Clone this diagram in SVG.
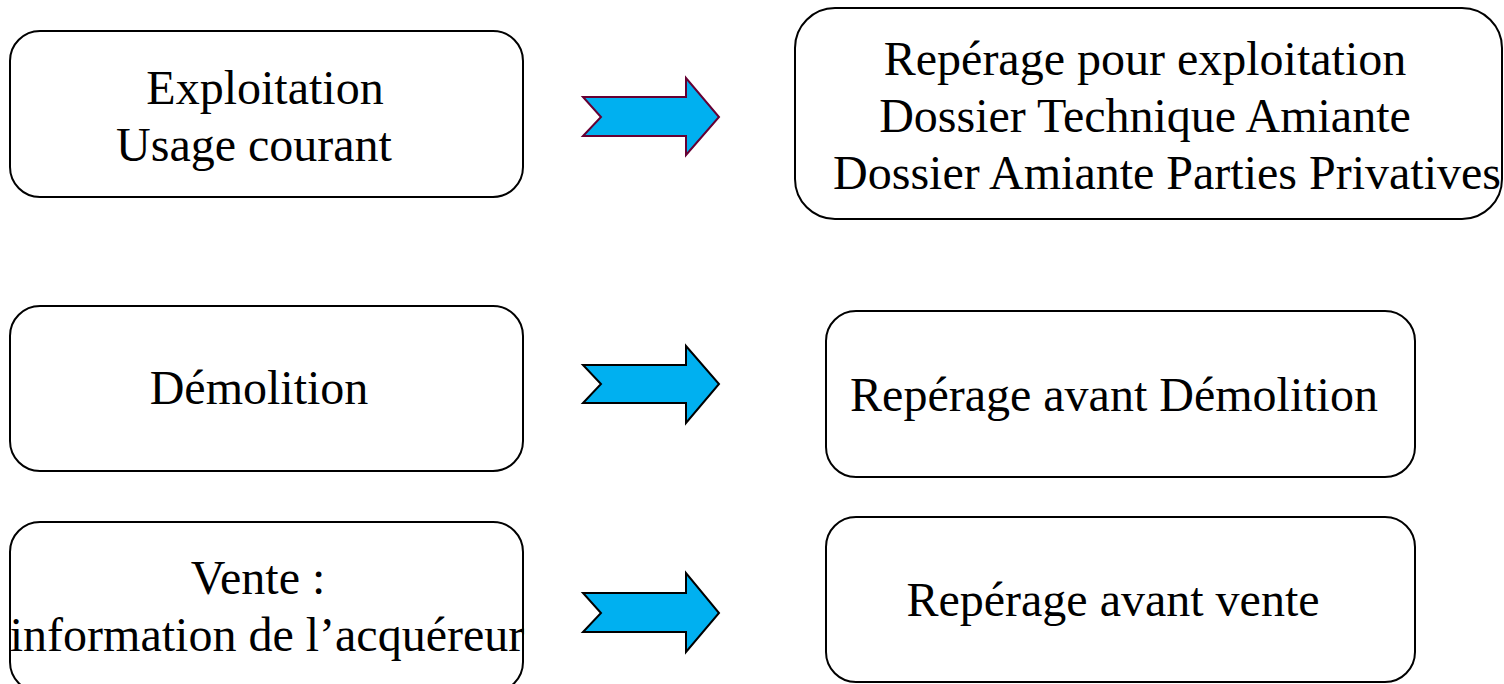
<svg xmlns="http://www.w3.org/2000/svg" width="1504" height="684" viewBox="0 0 1504 684">
<style>
.box{fill:#fff;stroke:#000;stroke-width:2}
.t{font-family:"Liberation Serif","Times New Roman",serif;font-size:48px;fill:#000;text-anchor:middle}
.arr{fill:#00B0F0;stroke:#000;stroke-width:2;stroke-linejoin:miter}
</style>
<rect width="1504" height="684" fill="#fff"/>
<g id="n1"><rect class="box" x="10" y="31" width="513" height="166" rx="30"/>
<text class="t" x="265" y="104">Exploitation</text><text class="t" x="254" y="161">Usage courant</text></g>
<g id="n2"><rect class="box" x="795" y="8" width="707" height="211" rx="40"/>
<text class="t" x="1145" y="75">Repérage pour exploitation</text><text class="t" x="1145" y="132">Dossier Technique Amiante</text><text class="t" x="1167" y="189">Dossier Amiante Parties Privatives</text></g>
<g id="n3"><rect class="box" x="10" y="306" width="513" height="165" rx="30"/>
<text class="t" x="259" y="404">Démolition</text></g>
<g id="n4"><rect class="box" x="826" y="311" width="589" height="166" rx="30"/>
<text class="t" x="1114" y="411">Repérage avant Démolition</text></g>
<g id="n5"><rect class="box" x="10" y="522" width="513" height="170" rx="30"/>
<text class="t" x="258" y="594">Vente :</text><text class="t" x="267" y="651">information de l’acquéreur</text></g>
<g id="n6"><rect class="box" x="826" y="517" width="589" height="165" rx="30"/>
<text class="t" x="1113" y="616">Repérage avant vente</text></g>
<g id="connectors">
<polygon class="arr" style="stroke:#660033" points="583,97 686,97 686,78 719,117 686,155 686,136 583,136 601,117"/>
<polygon class="arr" points="583,365 686,365 686,346 719,384 686,423 686,403 583,403 601,384"/>
<polygon class="arr" points="583,593 686,593 686,573 719,613 686,652 686,632 583,632 601,613"/>
</g>
</svg>
